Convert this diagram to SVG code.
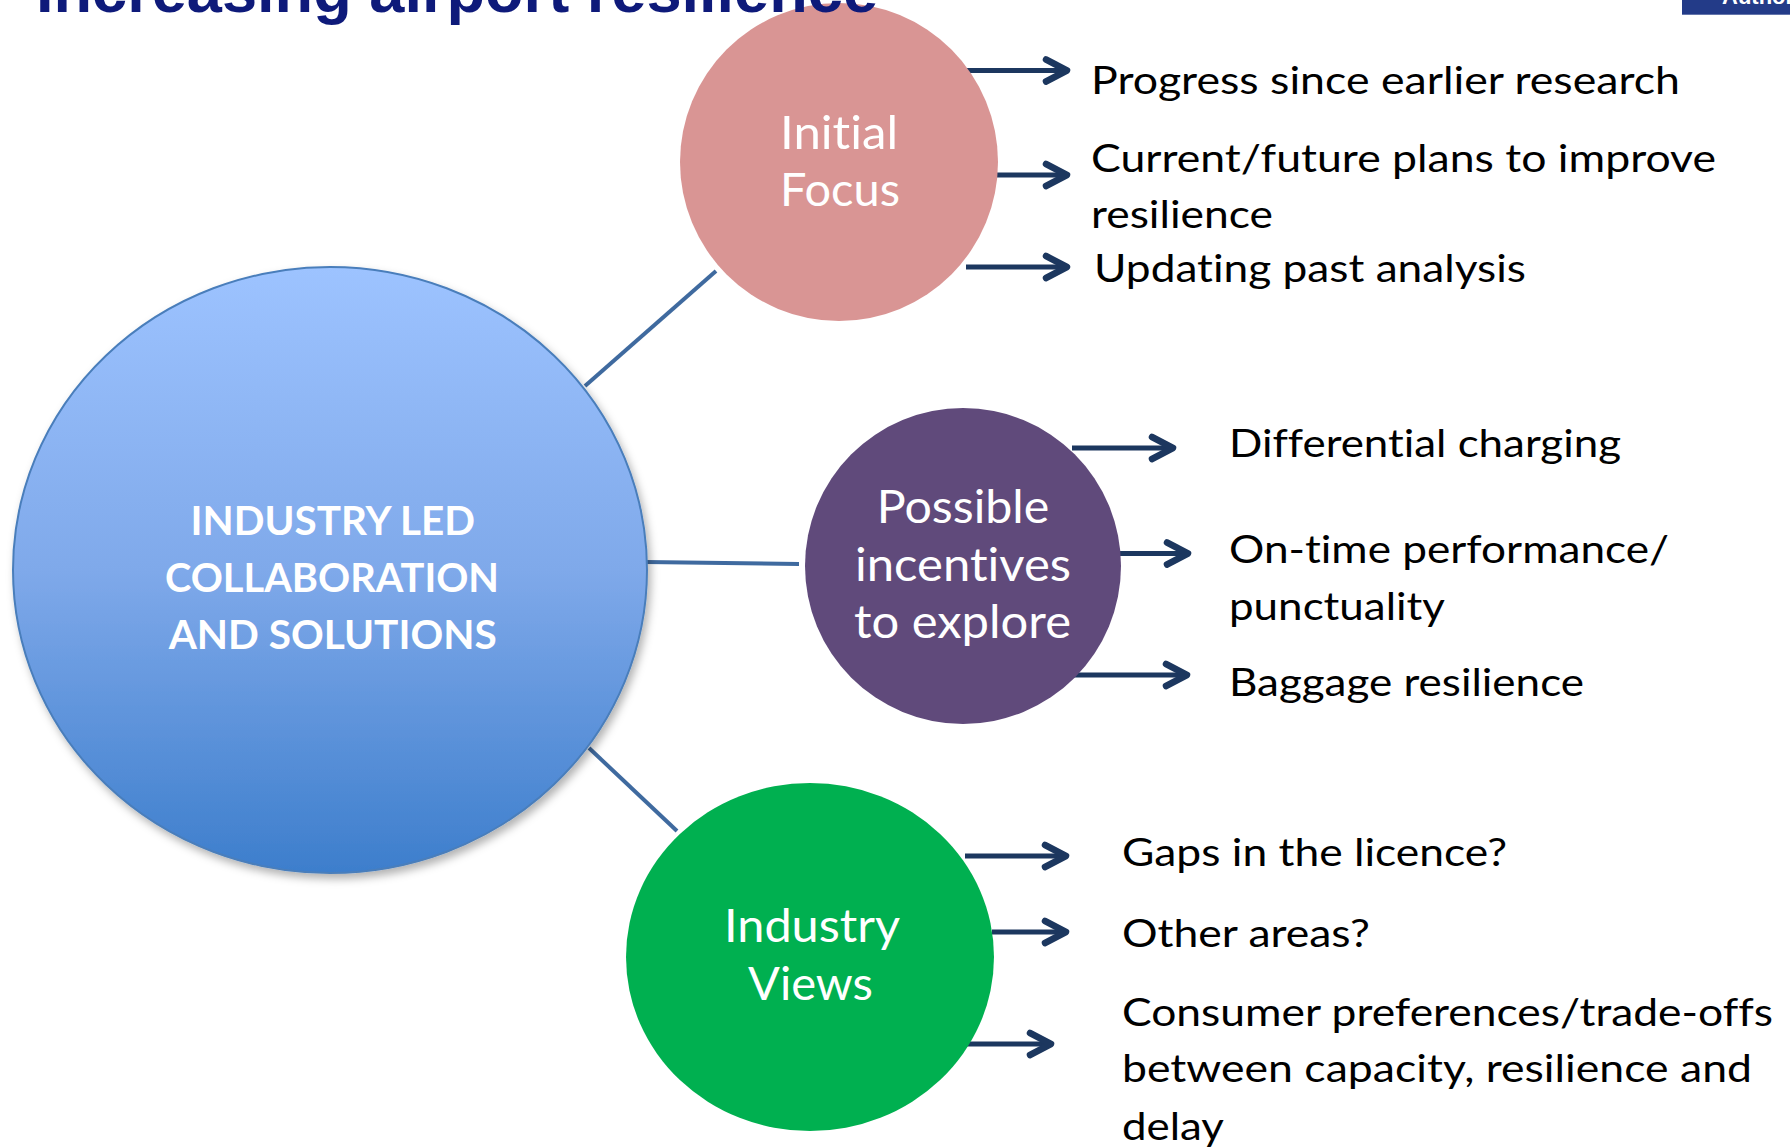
<svg xmlns="http://www.w3.org/2000/svg" width="1790" height="1148" viewBox="0 0 1790 1148">
<defs>
<style>
text{font-variant-ligatures:none;font-feature-settings:"liga" 0,"clig" 0}
.lbl{font-family:Lato,"Open Sans","Liberation Sans",sans-serif;font-size:38.5px;fill:#000}
.clbl{font-family:Lato,"Open Sans","Liberation Sans",sans-serif;font-size:47px;fill:#fff}
.blbl{font-family:Lato,"Open Sans","Liberation Sans",sans-serif;font-size:41px;font-weight:bold;fill:#fff}
.conn{stroke:#3F6A9F;stroke-width:4;fill:none}
.arr{stroke:#1C375F;stroke-width:5;fill:none;marker-end:url(#chev)}
</style>
<linearGradient id="gBlue" x1="0" y1="0" x2="0" y2="1">
<stop offset="0" stop-color="#9DC3FF"/>
<stop offset="0.5" stop-color="#7FA9EA"/>
<stop offset="1" stop-color="#3D7ECC"/>
</linearGradient>
<filter id="sh" x="-10%" y="-10%" width="125%" height="125%">
<feDropShadow dx="3" dy="5" stdDeviation="4" flood-color="#000" flood-opacity="0.3"/>
</filter>
<marker id="chev" markerUnits="userSpaceOnUse" viewBox="-30 -16 34 32" refX="-3" refY="0" markerWidth="34" markerHeight="32" orient="auto" overflow="visible">
<path d="M-24,-11 L-3,0 L-24,11" fill="none" stroke="#1C375F" stroke-width="6.5" stroke-linecap="round" stroke-linejoin="round"/>
</marker>
</defs>
<rect width="1790" height="1148" fill="#fff"/>

<g id="connectors">
<line class="conn" x1="585" y1="386" x2="716" y2="271"/>
<line class="conn" x1="645" y1="562" x2="799" y2="564"/>
<line class="conn" x1="589" y1="748" x2="677" y2="831"/>
<line class="arr" x1="966" y1="70.5" x2="1067" y2="70.5"/>
<line class="arr" x1="996" y1="175" x2="1067" y2="175"/>
<line class="arr" x1="966" y1="267" x2="1067" y2="267"/>
<line class="arr" x1="1072" y1="448" x2="1173" y2="448"/>
<line class="arr" x1="1118" y1="553.5" x2="1188" y2="553.5"/>
<line class="arr" x1="1073" y1="675" x2="1187" y2="675"/>
<line class="arr" x1="965" y1="856" x2="1066" y2="856"/>
<line class="arr" x1="992" y1="932" x2="1066" y2="932"/>
<line class="arr" x1="964" y1="1044" x2="1051" y2="1044"/>
</g>

<g id="node-industry-led">
<ellipse cx="330" cy="570" rx="317" ry="303" fill="url(#gBlue)" stroke="#4A7EBB" stroke-width="2" filter="url(#sh)"/>
<text class="blbl" x="190.5" y="534.5" textLength="284.5" lengthAdjust="spacingAndGlyphs">INDUSTRY LED</text>
<text class="blbl" x="165" y="592" textLength="334" lengthAdjust="spacingAndGlyphs">COLLABORATION</text>
<text class="blbl" x="168.7" y="649" textLength="328" lengthAdjust="spacingAndGlyphs">AND SOLUTIONS</text>
</g>

<g id="node-initial-focus">
<circle cx="839" cy="162" r="159" fill="#D99594"/>
<text class="clbl" x="780" y="149.3" textLength="118" lengthAdjust="spacingAndGlyphs">Initial</text>
<text class="clbl" x="780" y="206" textLength="120" lengthAdjust="spacingAndGlyphs">Focus</text>
</g>

<g id="node-possible-incentives">
<circle cx="963" cy="566" r="158" fill="#604A7B"/>
<text class="clbl" x="876.7" y="522.7" textLength="172.6" lengthAdjust="spacingAndGlyphs">Possible</text>
<text class="clbl" x="855" y="580.7" textLength="216" lengthAdjust="spacingAndGlyphs">incentives</text>
<text class="clbl" x="854" y="638.3" textLength="217" lengthAdjust="spacingAndGlyphs">to explore</text>
</g>

<g id="node-industry-views">
<ellipse cx="810" cy="957" rx="184" ry="174" fill="#00B050"/>
<text class="clbl" x="724" y="941.7" textLength="176" lengthAdjust="spacingAndGlyphs">Industry</text>
<text class="clbl" x="748" y="1000" textLength="125" lengthAdjust="spacingAndGlyphs">Views</text>
</g>

<g id="items-initial-focus">
<text class="lbl" x="1091" y="94" textLength="589" lengthAdjust="spacingAndGlyphs">Progress since earlier research</text>
<text class="lbl" x="1091" y="171.5" textLength="625" lengthAdjust="spacingAndGlyphs">Current/future plans to improve</text>
<text class="lbl" x="1091" y="228" textLength="182" lengthAdjust="spacingAndGlyphs">resilience</text>
<text class="lbl" x="1094" y="282" textLength="432" lengthAdjust="spacingAndGlyphs">Updating past analysis</text>
</g>

<g id="items-incentives">
<text class="lbl" x="1229" y="456.5" textLength="392" lengthAdjust="spacingAndGlyphs">Differential charging</text>
<text class="lbl" x="1229" y="563" textLength="440" lengthAdjust="spacingAndGlyphs">On-time performance/</text>
<text class="lbl" x="1229" y="620" textLength="216" lengthAdjust="spacingAndGlyphs">punctuality</text>
<text class="lbl" x="1229" y="696" textLength="355" lengthAdjust="spacingAndGlyphs">Baggage resilience</text>
</g>

<g id="items-industry-views">
<text class="lbl" x="1122" y="866" textLength="385" lengthAdjust="spacingAndGlyphs">Gaps in the licence?</text>
<text class="lbl" x="1122" y="947" textLength="248" lengthAdjust="spacingAndGlyphs">Other areas?</text>
<text class="lbl" x="1122" y="1025.5" textLength="651" lengthAdjust="spacingAndGlyphs">Consumer preferences/trade-offs</text>
<text class="lbl" x="1122" y="1082" textLength="630" lengthAdjust="spacingAndGlyphs">between capacity, resilience and</text>
<text class="lbl" x="1122" y="1139.5" textLength="102" lengthAdjust="spacingAndGlyphs">delay</text>
</g>

<g id="title">
<text x="36" y="12" font-family="'Liberation Sans',Arial,sans-serif" font-weight="bold" font-size="63" fill="#0E1A7A" textLength="842" lengthAdjust="spacingAndGlyphs">Increasing airport resilience</text>
</g>

<g id="logo">
<rect x="1682" y="-2" width="110" height="16.7" fill="#233B88"/>
<text x="1722" y="4" font-family="'Liberation Sans',Arial,sans-serif" font-weight="bold" font-size="22" fill="#fff">Authority</text>
</g>
</svg>
